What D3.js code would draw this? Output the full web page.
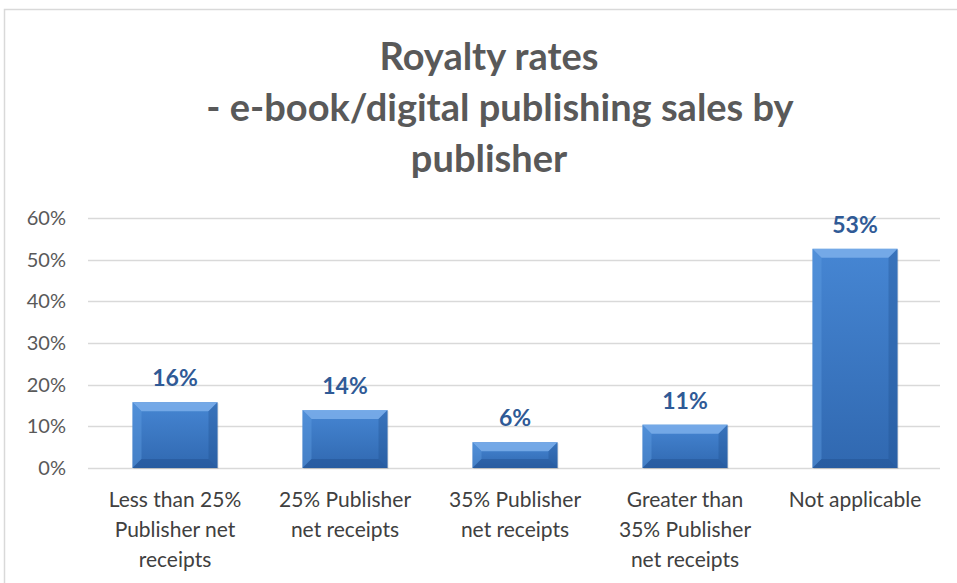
<!DOCTYPE html>
<html lang="en">
<head>
<meta charset="utf-8">
<title>Royalty rates</title>
<script src="https://cdn.jsdelivr.net/npm/d3@7"></script>
<style>
  body { margin: 0; background: #fff; }
  svg { display: block; }
</style>
</head>
<body>
<script>
// data
var categories = [
  ["Less than 25%", "Publisher net", "receipts"],
  ["25% Publisher", "net receipts"],
  ["35% Publisher", "net receipts"],
  ["Greater than", "35% Publisher", "net receipts"],
  ["Not applicable"]
];
var values = [0.158, 0.139, 0.062, 0.104, 0.526];
var valueLabels = ["16%", "14%", "6%", "11%", "53%"];
var yTicks = [0, 0.1, 0.2, 0.3, 0.4, 0.5, 0.6];
var titleLines = ["Royalty rates", "- e-book/digital publishing sales by", "publisher"];

var w = 957, h = 583;
var font = "Lato, 'Open Sans', sans-serif";

var svg = d3.select("body").append("svg")
  .attr("width", w)
  .attr("height", h);

var defs = svg.append("defs");
var grad = defs.append("linearGradient")
  .attr("id", "barGrad")
  .attr("x1", 0).attr("y1", 0).attr("x2", 0).attr("y2", 1);
grad.append("stop").attr("offset", "0%").attr("stop-color", "#4686d3");
grad.append("stop").attr("offset", "100%").attr("stop-color", "#3068b0");

// outer chart border (only top and left visible)
svg.append("path")
  .attr("d", "M4.5," + h + "V9.5H" + w)
  .attr("fill", "none")
  .attr("stroke", "#d9d9d9")
  .attr("stroke-width", 1.5);

// title
svg.append("g").selectAll("text")
  .data(titleLines)
  .enter().append("text")
  .attr("x", function(d, i) { return i === 1 ? 500 : 489; })
  .attr("y", function(d, i) { return 70 + i * 51; })
  .attr("text-anchor", "middle")
  .attr("font-family", font)
  .attr("font-weight", "bold")
  .attr("font-size", "38px")
  .attr("fill", "#595959")
  .text(function(d) { return d; });

var xScale = d3.scaleBand()
  .domain(d3.range(values.length))
  .range([90, 940])
  .paddingInner(0.5)
  .paddingOuter(0.25);

var yScale = d3.scaleLinear()
  .domain([0, 0.6])
  .range([468, 218]);

// gridlines
svg.append("g").selectAll("line")
  .data(yTicks)
  .enter().append("line")
  .attr("x1", 88)
  .attr("x2", 940)
  .attr("y1", function(d) { return Math.round(yScale(d)) + 0.5; })
  .attr("y2", function(d) { return Math.round(yScale(d)) + 0.5; })
  .attr("stroke", "#d9d9d9")
  .attr("stroke-width", 1.5);

// y axis labels
var yAxis = d3.axisLeft(yScale)
  .tickValues(yTicks)
  .tickFormat(d3.format(".0%"))
  .tickSize(0)
  .tickPadding(0);

var yg = svg.append("g")
  .attr("transform", "translate(66,0)")
  .call(yAxis);
yg.select(".domain").remove();
yg.selectAll("text")
  .attr("font-family", font)
  .attr("font-size", "20px")
  .attr("fill", "#595959");

// bars
var bars = svg.append("g").selectAll("g")
  .data(values)
  .enter().append("g")
  .attr("transform", function(d, i) { return "translate(" + xScale(i) + "," + yScale(d) + ")"; });

var bw = xScale.bandwidth();
var bev = 9;

// shadow
bars.append("rect")
  .attr("x", 1)
  .attr("y", 1)
  .attr("width", bw)
  .attr("height", function(d) { return yScale(0) - yScale(d); })
  .attr("fill", "#000")
  .attr("opacity", 0.12);

bars.append("rect")
  .attr("width", bw)
  .attr("height", function(d) { return yScale(0) - yScale(d); })
  .attr("fill", "url(#barGrad)");

// top bevel
bars.append("path")
  .attr("d", "M0,0H" + bw + "L" + (bw - bev) + "," + bev + "H" + bev + "Z")
  .attr("fill", "#7fb2ec")
  .attr("opacity", 0.8);

// left bevel
bars.append("path")
  .attr("d", function(d) {
    var bh = yScale(0) - yScale(d);
    return "M0,0L" + bev + "," + bev + "V" + (bh - bev) + "L0," + bh + "Z";
  })
  .attr("fill", "#5d9be0")
  .attr("opacity", 0.45);

// right bevel
bars.append("path")
  .attr("d", function(d) {
    var bh = yScale(0) - yScale(d);
    return "M" + bw + ",0L" + (bw - bev) + "," + bev + "V" + (bh - bev) + "L" + bw + "," + bh + "Z";
  })
  .attr("fill", "#1f4f8f")
  .attr("opacity", 0.35);

// bottom bevel
bars.append("path")
  .attr("d", function(d) {
    var bh = yScale(0) - yScale(d);
    return "M0," + bh + "L" + bev + "," + (bh - bev) + "H" + (bw - bev) + "L" + bw + "," + bh + "Z";
  })
  .attr("fill", "#1d4c8a")
  .attr("opacity", 0.4);

// value labels
svg.append("g").selectAll("text")
  .data(values)
  .enter().append("text")
  .attr("x", function(d, i) { return xScale(i) + bw / 2; })
  .attr("y", function(d) { return yScale(d) - 16; })
  .attr("text-anchor", "middle")
  .attr("font-family", font)
  .attr("font-weight", "bold")
  .attr("font-size", "23px")
  .attr("fill", "#2f5a96")
  .text(function(d, i) { return valueLabels[i]; });

// category labels
var cats = svg.append("g").selectAll("text")
  .data(categories)
  .enter().append("text")
  .attr("x", function(d, i) { return xScale(i) + bw / 2; })
  .attr("y", 507)
  .attr("text-anchor", "middle")
  .attr("font-family", font)
  .attr("font-size", "21px")
  .attr("fill", "#404040");

cats.selectAll("tspan")
  .data(function(d) { return d; })
  .enter().append("tspan")
  .attr("x", function() { return d3.select(this.parentNode).attr("x"); })
  .attr("dy", function(d, i) { return i === 0 ? 0 : 30; })
  .text(function(d) { return d; });
</script>
</body>
</html>
